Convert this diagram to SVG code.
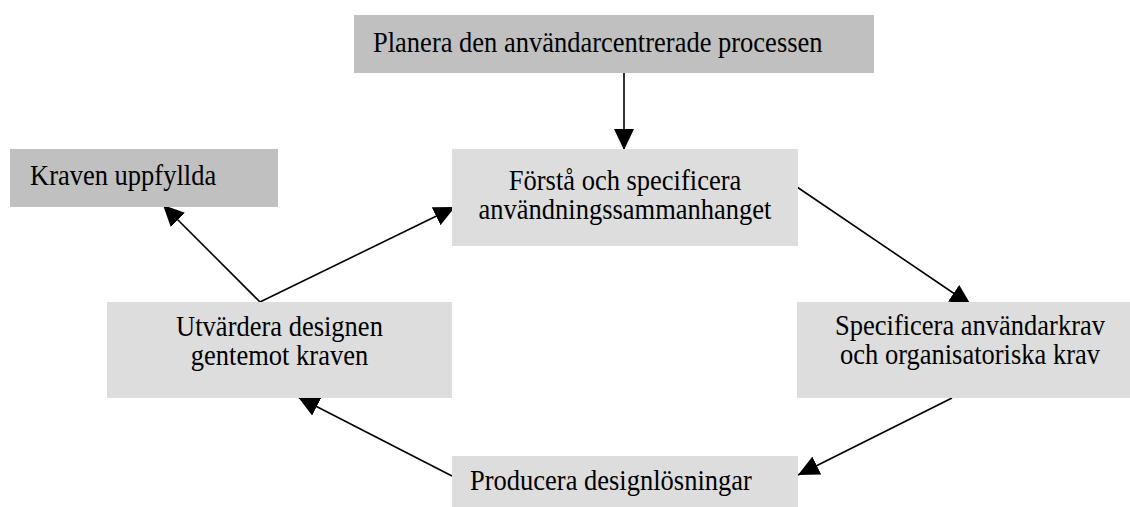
<svg xmlns="http://www.w3.org/2000/svg" width="1130" height="507" viewBox="0 0 1130 507">
  <style>
    .dark { fill: #c0c0c0; }
    .light { fill: #dddddd; }
    .lbl { font-family: "Liberation Serif", "Times New Roman", serif; font-size: 28.5px; fill: #000000; }
    .mid { text-anchor: middle; }
    .edge { stroke: #000000; stroke-width: 1.6; fill: none; marker-end: url(#head); }
  </style>
  <defs>
    <marker id="head" markerUnits="userSpaceOnUse" markerWidth="22" markerHeight="20" refX="21" refY="10" orient="auto">
      <path d="M0,0 L21,10 L0,20 Z" fill="#000000"/>
    </marker>
  </defs>

  <rect width="1130" height="507" fill="#ffffff"/>

  <!-- connectors are drawn first so the boxes sit on top of the arrow tips -->
  <g id="connectors">
    <line class="edge" x1="624" y1="73" x2="624" y2="150"/>
    <line class="edge" x1="260" y1="302" x2="163" y2="205"/>
    <line class="edge" x1="260" y1="302" x2="455" y2="207"/>
    <line class="edge" x1="797" y1="187" x2="971" y2="305"/>
    <line class="edge" x1="952" y1="398" x2="798" y2="475"/>
    <line class="edge" x1="452" y1="476" x2="298" y2="397"/>
  </g>

  <!-- labels use a slightly narrowed serif face: translate to the anchor, then squeeze horizontally -->
  <g id="plan">
    <rect class="dark" x="354" y="15" width="520" height="58"/>
    <text class="lbl" transform="translate(373,52) scale(0.93,1)">Planera den användarcentrerade processen</text>
  </g>

  <g id="done">
    <rect class="dark" x="10" y="149" width="268" height="58"/>
    <text class="lbl" transform="translate(30,185) scale(0.93,1)">Kraven uppfyllda</text>
  </g>

  <g id="context">
    <rect class="light" x="452" y="149" width="346" height="97"/>
    <text class="lbl mid" transform="translate(625,190) scale(0.93,1)">Förstå och specificera</text>
    <text class="lbl mid" transform="translate(625,219) scale(0.93,1)">användningssammanhanget</text>
  </g>

  <g id="requirements">
    <rect class="light" x="797" y="302" width="346" height="96"/>
    <text class="lbl mid" transform="translate(970,335) scale(0.93,1)">Specificera användarkrav</text>
    <text class="lbl mid" transform="translate(970,364) scale(0.93,1)">och organisatoriska krav</text>
  </g>

  <g id="evaluate">
    <rect class="light" x="107" y="302" width="345" height="96"/>
    <text class="lbl mid" transform="translate(279.5,336) scale(0.93,1)">Utvärdera designen</text>
    <text class="lbl mid" transform="translate(279.5,365) scale(0.93,1)">gentemot kraven</text>
  </g>

  <g id="produce">
    <rect class="light" x="452" y="456" width="346" height="60"/>
    <text class="lbl" transform="translate(470,490) scale(0.93,1)">Producera designlösningar</text>
  </g>
</svg>
